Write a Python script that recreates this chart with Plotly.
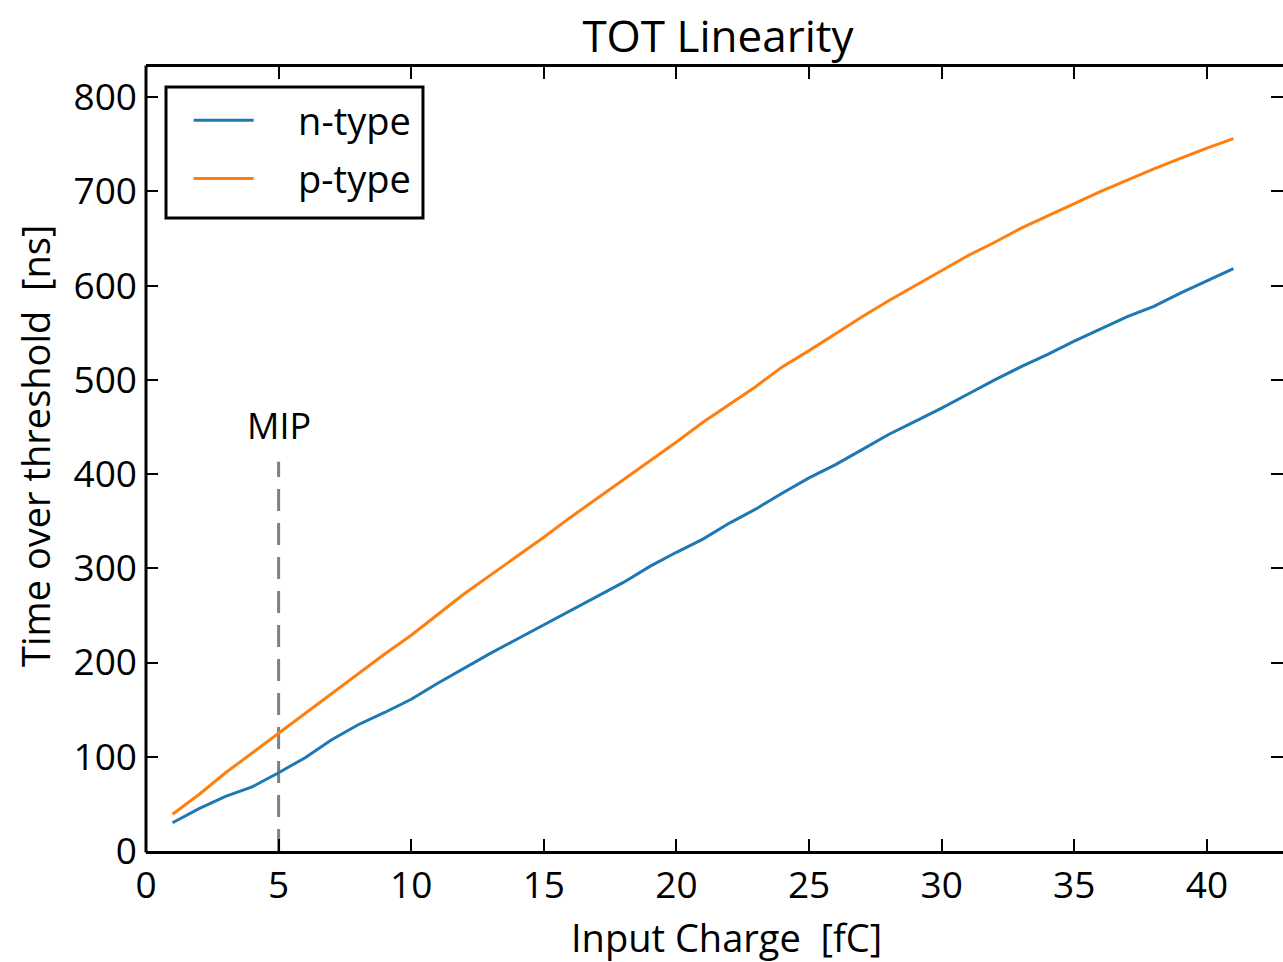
import plotly.graph_objects as go

charge = list(range(1, 42))
n_type = [30, 45, 58, 68, 83, 99, 118, 134, 147, 161,
          178, 194, 210, 225, 240, 255, 270, 285, 302, 317,
          331, 348, 363, 380, 396, 410, 426, 442, 456, 470,
          485, 500, 514, 527, 541, 554, 567, 578, 592, 605, 618]
p_type = [39, 60, 83, 104, 125, 146, 167, 188, 209, 229,
          251, 273, 293, 313, 333, 354, 374, 394, 414, 434,
          455, 474, 493, 514, 531, 549, 567, 584, 600, 616,
          632, 646, 661, 674, 687, 700, 712, 724, 735, 746, 756]
mip_x = [5, 5]
mip_y = [0, 413]
x_ticks = [0, 5, 10, 15, 20, 25, 30, 35, 40]
y_ticks = [0, 100, 200, 300, 400, 500, 600, 700, 800]

FONT = "Open Sans"
NB = "\u00a0"

fig = go.Figure()
fig.add_trace(go.Scatter(x=mip_x, y=mip_y, mode="lines", showlegend=False,
                         line=dict(color="#808080", width=3, dash="22px,12px")))
fig.add_trace(go.Scatter(x=charge, y=n_type, mode="lines", name=NB * 4 + "n-type",
                         legendgroup="n", line=dict(color="#1f77b4", width=3)))
fig.add_trace(go.Scatter(x=charge, y=p_type, mode="lines", name=NB * 4 + "p-type",
                         legendgroup="p", line=dict(color="#ff7f0e", width=3)))

fig.add_annotation(x=5, y=452, text="MIP", showarrow=False,
                   font=dict(family=FONT, size=36, color="black"),
                   xanchor="center", yanchor="middle")

# axis titles
fig.add_annotation(xref="paper", yref="paper", x=0.5105, y=-0.1097,
                   text="Input Charge" + NB * 2 + "[fC]", showarrow=False,
                   xanchor="center", yanchor="middle",
                   font=dict(family=FONT, size=38, color="black"))
fig.add_annotation(xref="paper", yref="paper", x=-0.0976, y=0.5166,
                   text="Time over threshold" + NB * 2 + "[ns]", showarrow=False,
                   textangle=-90, xanchor="center", yanchor="middle",
                   font=dict(family=FONT, size=38, color="black"))

axis_common = dict(ticks="inside", ticklen=12, tickwidth=2, tickcolor="black",
                   showgrid=False, zeroline=False,
                   tickfont=dict(family=FONT, size=37, color="black"))

fig.update_xaxes(range=[0, 42.87], tickvals=x_ticks,
                 showline=True, linecolor="black", linewidth=3, mirror="ticks",
                 **axis_common)
fig.update_yaxes(range=[0, 832], tickvals=y_ticks,
                 showline=False, mirror="ticks", ticklabelstandoff=8,
                 **axis_common)

# left spine
fig.add_shape(type="line", xref="paper", yref="paper", x0=0, x1=0, y0=-0.002, y1=1.002,
              line=dict(color="black", width=3), layer="above")
# legend frame
fig.add_shape(type="rect", xref="paper", yref="paper",
              x0=0.0176, x1=0.2436, y0=0.8074, y1=0.9745,
              line=dict(color="black", width=3), fillcolor="rgba(0,0,0,0)", layer="above")

fig.update_layout(
    width=1283, height=962,
    margin=dict(l=146, r=0, t=67, b=111),
    paper_bgcolor="white", plot_bgcolor="white",
    title=dict(text="TOT Linearity", x=0.5596, xanchor="center", y=0.9615, yanchor="middle",
               font=dict(family=FONT, size=44, color="black")),
    legend=dict(x=0.0375, y=0.972, xanchor="left", yanchor="top",
                borderwidth=0, bgcolor="rgba(255,255,255,0)",
                font=dict(family=FONT, size=38, color="black"),
                itemwidth=60, tracegroupgap=6),
    showlegend=True,
)

fig.write_html("out.html", config={"displayModeBar": False},
               post_script="document.body.style.margin='0';document.body.style.overflow='hidden';")
